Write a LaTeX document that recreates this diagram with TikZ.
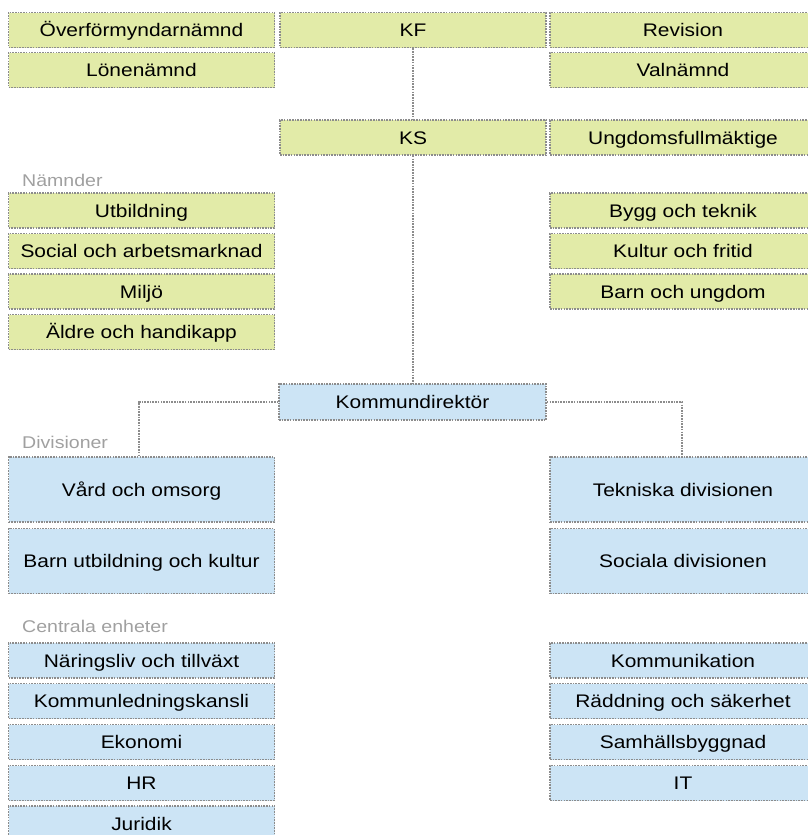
\documentclass[tikz,border=0pt]{standalone}
\usepackage{fontspec}
\setmainfont{Liberation Sans}[FakeStretch=1.15]
\definecolor{gfill}{RGB}{226,235,168}
\definecolor{bfill}{RGB}{204,228,245}
\definecolor{bord}{RGB}{140,140,140}
\definecolor{lab}{RGB}{160,160,160}
\tikzset{
  box/.style={draw=bord, line width=1.6pt, dash pattern=on 1.6pt off 1.1pt, inner sep=0pt,
    minimum width=266pt, font=\fontsize{18.2}{20}\selectfont, text=black,
    text height=13pt, text depth=0pt},
  gbox/.style={box, fill=gfill, minimum height=35pt},
  bbox/.style={box, fill=bfill, minimum height=35pt},
  dbox/.style={box, fill=bfill, minimum height=65pt},
  conn/.style={draw=bord, line width=1.6pt, dash pattern=on 1.6pt off 1.1pt},
  grouplabel/.style={anchor=base west, inner sep=0pt, text=lab, font=\fontsize{17}{19}\selectfont}
}
\begin{document}
\begin{tikzpicture}[x=1pt,y=-1pt]
\useasboundingbox (0,0) rectangle (808,835);
\clip (0,0) rectangle (808,835);
% top
\node[gbox] (ofn) at (141.5,30) {Överförmyndarnämnd};
\node[gbox] (lon) at (141.5,70) {Lönenämnd};
\node[gbox] (kf) at (413,30) {KF};
\node[gbox] (rev) at (683,30) {Revision};
\node[gbox] (val) at (683,70) {Valnämnd};
\node[gbox] (ks) at (413,137.5) {KS};
\node[gbox] (ung) at (683,137.5) {Ungdomsfullmäktige};
% nämnder
\node[grouplabel] (lnam) at (22,186) {Nämnder};
\node[gbox] (utb) at (141.5,210.5) {Utbildning};
\node[gbox] (soc) at (141.5,251) {Social och arbetsmarknad};
\node[gbox] (mil) at (141.5,291.5) {Miljö};
\node[gbox] (ald) at (141.5,332) {Äldre och handikapp};
\node[gbox] (byg) at (683,210.5) {Bygg och teknik};
\node[gbox] (kul) at (683,251) {Kultur och fritid};
\node[gbox] (bou) at (683,291.5) {Barn och ungdom};
% kommundirektör
\node[bbox, minimum height=36pt, minimum width=267pt] (kd) at (412.5,402) {Kommundirektör};
% divisioner
\node[grouplabel] (ldiv) at (22,448) {Divisioner};
\node[dbox] (vard) at (141.5,489.5) {Vård och omsorg};
\node[dbox] (buk) at (141.5,561) {Barn utbildning och kultur};
\node[dbox] (tek) at (683,489.5) {Tekniska divisionen};
\node[dbox] (sdv) at (683,561) {Sociala divisionen};
% centrala enheter
\node[grouplabel] (lcen) at (22,632) {Centrala enheter};
\node[bbox] (nar) at (141.5,660.5) {Näringsliv och tillväxt};
\node[bbox] (kom) at (141.5,701) {Kommunledningskansli};
\node[bbox] (eko) at (141.5,742) {Ekonomi};
\node[bbox] (hr) at (141.5,783) {HR};
\node[bbox] (jur) at (141.5,823.5) {Juridik};
\node[bbox] (kmk) at (683,660.5) {Kommunikation};
\node[bbox] (rad) at (683,701) {Räddning och säkerhet};
\node[bbox] (sam) at (683,742) {Samhällsbyggnad};
\node[bbox] (it) at (683,783) {IT};
% connectors
\draw[conn] (kf.south) -- (ks.north);
\draw[conn] (ks.south) -- (kd.north -| ks.south);
\draw[conn] (kd.west) -| (vard.north -| 139,0);
\draw[conn] (kd.east) -| (tek.north -| 682,0);
\end{tikzpicture}
\end{document}
